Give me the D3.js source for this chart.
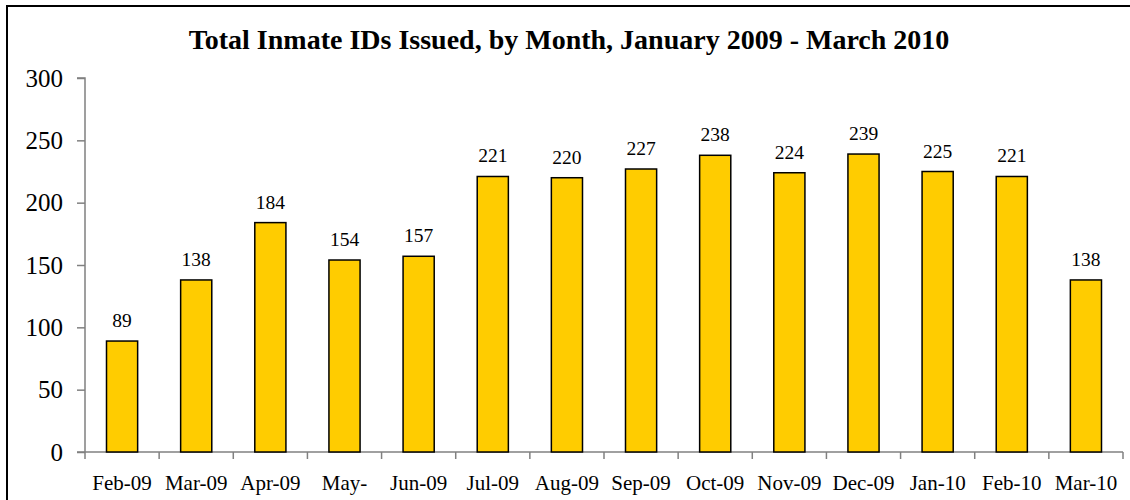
<!DOCTYPE html>
<html>
<head>
<meta charset="utf-8">
<script src="https://cdn.jsdelivr.net/npm/d3@7"></script>
<style>
  body { margin: 0; background: #fff; }
  text { font-family: "Liberation Serif", "Times New Roman", serif; fill: #000; }
</style>
</head>
<body>
<script>
// Chart data
var months = ["Feb-09", "Mar-09", "Apr-09", "May-09", "Jun-09", "Jul-09", "Aug-09",
              "Sep-09", "Oct-09", "Nov-09", "Dec-09", "Jan-10", "Feb-10", "Mar-10"];
var idsIssued = [89, 138, 184, 154, 157, 221, 220, 227, 238, 224, 239, 225, 221, 138];
var yTicks = [0, 50, 100, 150, 200, 250, 300];

var W = 1130, H = 500;
var margin = {top: 78, right: 7, bottom: 48, left: 85},
    width = W - margin.left - margin.right,
    height = H - margin.top - margin.bottom;

var svg = d3.select("body").append("svg")
    .attr("width", W)
    .attr("height", H);

// outer chart border (right and bottom run off the picture)
svg.append("rect")
    .attr("x", 7).attr("y", 6)
    .attr("width", W + 20).attr("height", H + 20)
    .attr("fill", "none")
    .attr("stroke", "#000")
    .attr("stroke-width", 2);

var g = svg.append("g")
    .attr("transform", "translate(" + margin.left + "," + margin.top + ")");

var x = d3.scaleBand()
    .domain(months)
    .range([0, width])
    .paddingInner(0.58)
    .paddingOuter(0.29);

var y = d3.scaleLinear()
    .domain([0, 300])
    .range([height, 0]);

// y axis
var yAxis = g.append("g")
    .call(d3.axisLeft(y).tickValues(yTicks).tickSize(8).tickPadding(14));
yAxis.selectAll("line, path").attr("stroke", "#808080").attr("stroke-width", 1.5);
yAxis.select(".domain").attr("d", "M0," + height + "V0H-8");
yAxis.selectAll("text")
    .style("font-size", "25px")
    .style("font-family", "Liberation Serif, serif");

// x axis: ticks at category boundaries
g.append("line")
    .attr("x1", -8).attr("x2", width)
    .attr("y1", height).attr("y2", height)
    .attr("stroke", "#808080").attr("stroke-width", 1.5);

var step = x.step();
g.selectAll(".xtick")
    .data(d3.range(months.length + 1))
    .enter().append("line")
    .attr("class", "xtick")
    .attr("x1", function(i) { return i * step; })
    .attr("x2", function(i) { return i * step; })
    .attr("y1", height).attr("y2", height + 7)
    .attr("stroke", "#808080").attr("stroke-width", 1.5);

// bars
g.selectAll(".bar")
    .data(idsIssued)
    .enter().append("rect")
    .attr("class", "bar")
    .attr("x", function(d, i) { return x(months[i]); })
    .attr("y", function(d) { return y(d); })
    .attr("width", x.bandwidth())
    .attr("height", function(d) { return height - y(d); })
    .attr("fill", "#FFCC00")
    .attr("stroke", "#000")
    .attr("stroke-width", 1.5);

// value labels
g.selectAll(".val")
    .data(idsIssued)
    .enter().append("text")
    .attr("class", "val")
    .attr("x", function(d, i) { return x(months[i]) + x.bandwidth() / 2; })
    .attr("y", function(d) { return y(d) - 14; })
    .attr("text-anchor", "middle")
    .style("font-size", "19.5px")
    .text(function(d) { return d; });

// category labels (May-09 is wrapped in the original, only "May-" shows)
g.selectAll(".xlab")
    .data(months)
    .enter().append("text")
    .attr("class", "xlab")
    .attr("x", function(d) { return x(d) + x.bandwidth() / 2; })
    .attr("y", height + 38)
    .attr("text-anchor", "middle")
    .style("font-size", "21px")
    .text(function(d) { return d === "May-09" ? "May-" : d; });

// title
svg.append("text")
    .attr("x", 569)
    .attr("y", 49)
    .attr("text-anchor", "middle")
    .style("font-size", "28px")
    .style("font-weight", "bold")
    .text("Total Inmate IDs Issued, by Month, January 2009 - March 2010");
</script>
</body>
</html>
